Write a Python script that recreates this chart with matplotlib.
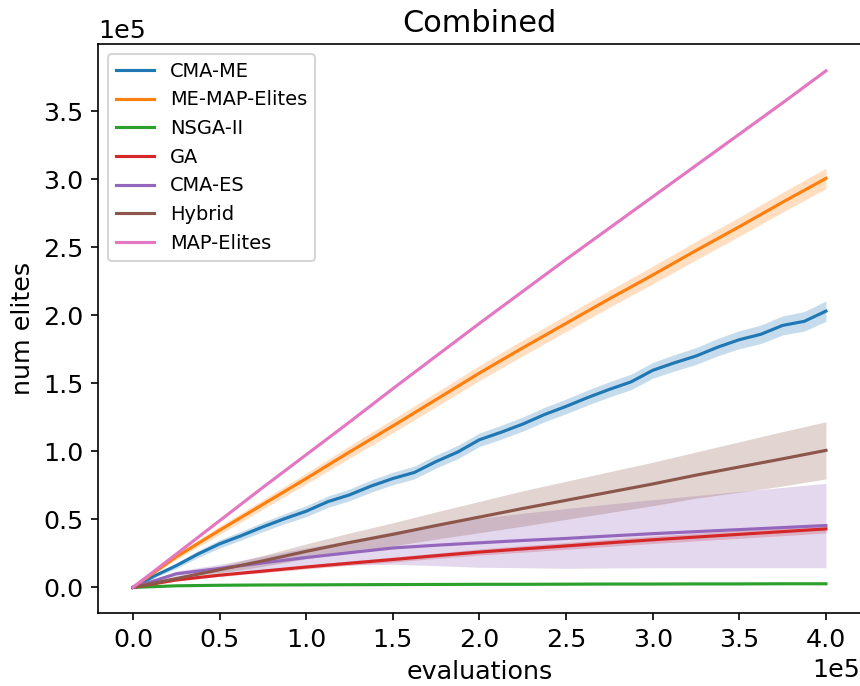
import numpy as np
import matplotlib
matplotlib.use("Agg")
import matplotlib.pyplot as plt

SCALE = 1e5  # values below are in units of 1e5

# evaluation checkpoints (units of 1e5)
evals = [0.0, 0.25, 0.5, 0.75, 1.0, 1.25, 1.5, 1.75, 2.0,
         2.25, 2.5, 2.75, 3.0, 3.25, 3.5, 3.75, 4.0]
evals_fine = [0.0, 0.125, 0.25, 0.375, 0.5, 0.625, 0.75, 0.875, 1.0,
              1.125, 1.25, 1.375, 1.5, 1.625, 1.75, 1.875, 2.0,
              2.125, 2.25, 2.375, 2.5, 2.625, 2.75, 2.875, 3.0,
              3.125, 3.25, 3.375, 3.5, 3.625, 3.75, 3.875, 4.0]

cma_me = [0.00, 0.085, 0.16, 0.245, 0.32, 0.38, 0.445, 0.505, 0.56,
          0.63, 0.68, 0.745, 0.80, 0.845, 0.925, 0.995, 1.085,
          1.14, 1.20, 1.27, 1.33, 1.395, 1.455, 1.51, 1.595,
          1.65, 1.70, 1.765, 1.82, 1.86, 1.925, 1.955, 2.03]
cma_me_sd = [0, 0.012, 0.02, 0.025, 0.03, 0.032, 0.035, 0.037, 0.04,
             0.042, 0.043, 0.045, 0.046, 0.047, 0.048, 0.049, 0.05,
             0.051, 0.052, 0.053, 0.054, 0.055, 0.056, 0.057, 0.058,
             0.06, 0.062, 0.064, 0.066, 0.068, 0.07, 0.072, 0.075]

me_map_elites = [0, 0.225, 0.42, 0.61, 0.80, 0.995, 1.186, 1.38, 1.575,
                 1.76, 1.94, 2.12, 2.295, 2.475, 2.65, 2.83, 3.005]
me_map_elites_sd = [0, 0.02, 0.03, 0.035, 0.04, 0.045, 0.05, 0.052, 0.055,
                    0.058, 0.06, 0.062, 0.065, 0.068, 0.07, 0.073, 0.075]

nsga2 = [0, 0.012, 0.016, 0.018, 0.019, 0.020, 0.021, 0.022, 0.023,
         0.023, 0.024, 0.025, 0.025, 0.026, 0.026, 0.027, 0.027]
nsga2_sd = [0, 0.003, 0.004, 0.004, 0.005, 0.005, 0.005, 0.005, 0.005,
            0.005, 0.005, 0.005, 0.005, 0.005, 0.005, 0.005, 0.005]

ga = [0, 0.055, 0.09, 0.12, 0.15, 0.178, 0.205, 0.233, 0.26,
      0.283, 0.305, 0.328, 0.35, 0.37, 0.39, 0.41, 0.43]
ga_sd = [0, 0.008, 0.01, 0.012, 0.014, 0.016, 0.018, 0.02, 0.022,
         0.024, 0.025, 0.026, 0.027, 0.028, 0.029, 0.03, 0.03]

cma_es = [0, 0.10, 0.14, 0.18, 0.22, 0.255, 0.29, 0.31, 0.328,
          0.345, 0.36, 0.378, 0.395, 0.41, 0.425, 0.44, 0.455]
cma_es_sd = [0, 0.02, 0.03, 0.05, 0.07, 0.09, 0.12, 0.15, 0.18,
             0.20, 0.22, 0.235, 0.25, 0.265, 0.28, 0.295, 0.31]

hybrid = [0, 0.065, 0.13, 0.195, 0.265, 0.33, 0.39, 0.455, 0.517,
          0.58, 0.64, 0.70, 0.76, 0.825, 0.885, 0.945, 1.007]
hybrid_sd = [0, 0.01, 0.025, 0.04, 0.055, 0.07, 0.085, 0.10, 0.115,
             0.13, 0.14, 0.15, 0.16, 0.17, 0.185, 0.20, 0.21]

map_elites = [0, 0.245, 0.49, 0.735, 0.975, 1.215, 1.46, 1.70, 1.94,
              2.175, 2.41, 2.64, 2.87, 3.10, 3.33, 3.56, 3.795]
map_elites_sd = [0, 0.002, 0.002, 0.003, 0.003, 0.003, 0.003, 0.004, 0.004,
                 0.004, 0.004, 0.004, 0.005, 0.005, 0.005, 0.005, 0.005]

series = [
    ("CMA-ME", evals_fine, cma_me, cma_me_sd),
    ("ME-MAP-Elites", evals, me_map_elites, me_map_elites_sd),
    ("NSGA-II", evals, nsga2, nsga2_sd),
    ("GA", evals, ga, ga_sd),
    ("CMA-ES", evals, cma_es, cma_es_sd),
    ("Hybrid", evals, hybrid, hybrid_sd),
    ("MAP-Elites", evals, map_elites, map_elites_sd),
]

DPI = 150
fig = plt.figure(figsize=(860 / DPI, 686 / DPI), dpi=DPI)
ax = fig.add_axes([98.3 / 860, (686 - 613.3) / 686,
                   (860.6 - 98.3) / 860, (613.3 - 44.3) / 686])

for i, (name, xs, mean, sd) in enumerate(series):
    color = f"C{i}"
    x = np.asarray(xs) * SCALE
    m = np.asarray(mean) * SCALE
    s = np.asarray(sd) * SCALE
    ax.fill_between(x, m - s, m + s, color=color, alpha=0.25, linewidth=0)
    ax.plot(x, m, color=color, linewidth=1.5, label=name)

ax.ticklabel_format(style="sci", axis="both", scilimits=(0, 0))
ax.tick_params(labelsize=12.2)
ax.xaxis.get_offset_text().set_fontsize(12.2)
ax.yaxis.get_offset_text().set_fontsize(12.2)
ax.set_xlabel("evaluations", fontsize=12.2)
ax.set_ylabel("num elites", fontsize=12.2)
ax.set_title("Combined", fontsize=14.6)
ax.legend(loc="upper left", fontsize=9.3)

fig.savefig("out.png", dpi=DPI)
